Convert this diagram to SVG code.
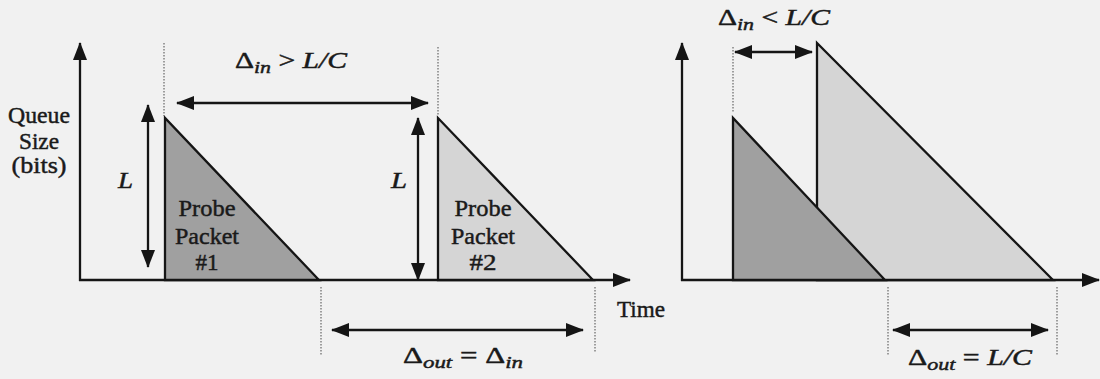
<svg xmlns="http://www.w3.org/2000/svg" width="1100" height="379" viewBox="0 0 1100 379">
<defs>
<marker id="ah" markerUnits="userSpaceOnUse" viewBox="0 0 18 14" markerWidth="18" markerHeight="14" refX="17" refY="7" orient="auto-start-reverse">
<path d="M0,0 L18,7 L0,14 z" fill="#151515"/>
</marker>
<style>
.ax{stroke:#151515;stroke-width:2.2;fill:none}
.arr{stroke:#151515;stroke-width:2.3;fill:none;marker-end:url(#ah)}
.dbl{stroke:#151515;stroke-width:2.3;fill:none;marker-start:url(#ah);marker-end:url(#ah)}
.dot{stroke:#7a7a7a;stroke-width:1.4;stroke-dasharray:1.5 1.5;fill:none}
.dark{fill:#a0a0a0;stroke:#151515;stroke-width:2.3;stroke-linejoin:miter}
.light{fill:#d5d5d5;stroke:#151515;stroke-width:2.3;stroke-linejoin:miter}
text{font-family:"Liberation Serif","Times New Roman",serif;fill:#1a1a1a;stroke:#1a1a1a;stroke-width:0.45;font-size:23px}
.it{font-style:italic}
.sub{font-style:italic;font-size:17px}
</style>
</defs>
<rect width="1100" height="379" fill="#f1f1f1"/>

<g id="left-axes">
<line class="arr" x1="80" y1="281" x2="80" y2="43"/>
<line class="arr" x1="79" y1="280" x2="630" y2="280"/>
<text x="39" y="123" text-anchor="middle" textLength="62" lengthAdjust="spacingAndGlyphs">Queue</text>
<text x="39" y="149" text-anchor="middle" textLength="40" lengthAdjust="spacingAndGlyphs">Size</text>
<text x="39" y="173" text-anchor="middle" textLength="55" lengthAdjust="spacingAndGlyphs">(bits)</text>
<text x="617" y="317" textLength="48" lengthAdjust="spacingAndGlyphs">Time</text>
</g>

<g id="packet1">
<polygon class="dark" points="165,118 165,280 319,280"/>
<text x="207" y="216" text-anchor="middle" textLength="57" lengthAdjust="spacingAndGlyphs">Probe</text>
<text x="207" y="244" text-anchor="middle" textLength="64" lengthAdjust="spacingAndGlyphs">Packet</text>
<text x="207" y="270" text-anchor="middle" textLength="23" lengthAdjust="spacingAndGlyphs">#1</text>
</g>

<g id="packet2">
<polygon class="light" points="438,118 438,280 593,280"/>
<text x="483" y="216" text-anchor="middle" textLength="57" lengthAdjust="spacingAndGlyphs">Probe</text>
<text x="483" y="244" text-anchor="middle" textLength="64" lengthAdjust="spacingAndGlyphs">Packet</text>
<text x="483" y="270" text-anchor="middle" textLength="27" lengthAdjust="spacingAndGlyphs">#2</text>
</g>

<g id="right-axes">
<line class="arr" x1="682" y1="281" x2="682" y2="43"/>
<line class="arr" x1="681" y1="280" x2="1099" y2="280"/>
</g>

<g id="packetB">
<polygon class="light" points="817,43 817,280 1053,280"/>
</g>
<g id="packetA">
<polygon class="dark" points="733,118 733,280 885,280"/>
</g>

<g id="connectors">
<line class="dot" x1="164" y1="43" x2="164" y2="116"/>
<line class="dot" x1="438" y1="47" x2="438" y2="116"/>
<line class="dot" x1="733" y1="47" x2="733" y2="112"/>
<line class="dot" x1="321" y1="287" x2="321" y2="355"/>
<line class="dot" x1="595" y1="287" x2="595" y2="353"/>
<line class="dot" x1="888" y1="287" x2="888" y2="355"/>
<line class="dot" x1="1057" y1="287" x2="1057" y2="355"/>
<line class="dbl" x1="148" y1="105" x2="148" y2="267"/>
<line class="dbl" x1="418" y1="118" x2="418" y2="280"/>
<line class="dbl" x1="177" y1="103" x2="428" y2="103"/>
<line class="dbl" x1="735" y1="52" x2="812" y2="52"/>
<line class="dbl" x1="332" y1="330" x2="583" y2="330"/>
<line class="dbl" x1="893" y1="330" x2="1048" y2="330"/>
</g>

<g id="labels">
<text x="118" y="188" class="it" textLength="15" lengthAdjust="spacingAndGlyphs">L</text>
<text x="391" y="188" class="it" textLength="16" lengthAdjust="spacingAndGlyphs">L</text>
<text x="235" y="68" textLength="112" lengthAdjust="spacingAndGlyphs">Δ<tspan class="sub" dy="5">in</tspan><tspan dy="-5"> &gt; </tspan><tspan class="it">L/C</tspan></text>
<text x="718" y="25" textLength="112" lengthAdjust="spacingAndGlyphs">Δ<tspan class="sub" dy="5">in</tspan><tspan dy="-5"> &lt; </tspan><tspan class="it">L/C</tspan></text>
<text x="403" y="363" textLength="120" lengthAdjust="spacingAndGlyphs">Δ<tspan class="sub" dy="5">out</tspan><tspan dy="-5"> = Δ</tspan><tspan class="sub" dy="5">in</tspan></text>
<text x="908" y="365" textLength="124" lengthAdjust="spacingAndGlyphs">Δ<tspan class="sub" dy="5">out</tspan><tspan dy="-5"> = </tspan><tspan class="it">L/C</tspan></text>
</g>
</svg>
